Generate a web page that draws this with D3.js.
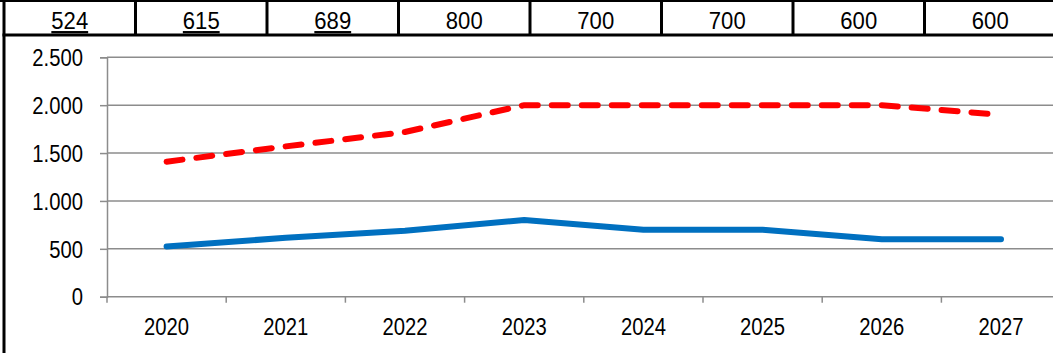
<!DOCTYPE html>
<html>
<head>
<meta charset="utf-8">
<script src="https://cdn.jsdelivr.net/npm/d3@7"></script>
<style>
  body { margin: 0; background: #fff; }
  svg { display: block; font-family: "Liberation Sans", Arial, sans-serif; }
</style>
</head>
<body>
<svg id="chart"></svg>
<script>
// data
var years = ["2020", "2021", "2022", "2023", "2024", "2025", "2026", "2027"];
var blueValues = [524, 615, 689, 800, 700, 700, 600, 600];
var redValues = [1410, 1570, 1720, 2000, 2000, 2000, 2000, 1900];
var tableLabels = ["524", "615", "689", "800", "700", "700", "600", "600"];
var underlined = [true, true, true, false, false, false, false, false];
var yTicks = [0, 500, 1000, 1500, 2000, 2500];

var width = 1053, height = 353;
var tableBottom = 35, cellLeft = 4, cellWidth = 131.5;
var plot = {left: 107, top: 57.3, bottom: 296.7, bandWidth: 119.2};
var squeeze = 0.88; // axis labels are narrower than plain Arial

var svg = d3.select("#chart")
    .attr("width", width)
    .attr("height", height);

var fmt = function(d) { return d3.format(",")(d).replace(/,/g, "."); };

// top row of numbers (table)
var cells = d3.scaleBand()
    .domain(years)
    .range([cellLeft, cellLeft + cellWidth * years.length]);

svg.append("line")
    .attr("x1", 0).attr("x2", width)
    .attr("y1", 0.75).attr("y2", 0.75)
    .attr("stroke", "#000").attr("stroke-width", 2.5);
svg.append("line")
    .attr("x1", cellLeft - 1.5).attr("x2", width)
    .attr("y1", tableBottom).attr("y2", tableBottom)
    .attr("stroke", "#000").attr("stroke-width", 3);
svg.selectAll(".divider")
    .data(years.slice(1))
    .enter().append("line")
    .attr("class", "divider")
    .attr("x1", d => cells(d)).attr("x2", d => cells(d))
    .attr("y1", 0).attr("y2", tableBottom)
    .attr("stroke", "#000").attr("stroke-width", 3);
// left border, all the way down
svg.append("line")
    .attr("x1", cellLeft).attr("x2", cellLeft)
    .attr("y1", 0).attr("y2", height)
    .attr("stroke", "#000").attr("stroke-width", 3);

svg.selectAll(".cell")
    .data(tableLabels)
    .enter().append("text")
    .attr("class", "cell")
    .attr("transform", (d, i) => "translate(" + (cells(years[i]) + cells.bandwidth() / 2) + ",29) scale(0.96,1)")
    .attr("text-anchor", "middle")
    .attr("font-size", 23)
    .attr("text-decoration", (d, i) => underlined[i] ? "underline" : null)
    .text(d => d);

// scales
var xScale = d3.scaleBand()
    .domain(years)
    .range([plot.left, plot.left + plot.bandWidth * years.length]);
var yScale = d3.scaleLinear()
    .domain([0, 2500])
    .range([plot.bottom, plot.top]);

var grey = "#8c8c8c";

// gridlines
svg.append("g")
    .attr("class", "grid")
    .selectAll("line")
    .data(yTicks.slice(1))
    .enter().append("line")
    .attr("x1", plot.left).attr("x2", width)
    .attr("y1", d => yScale(d)).attr("y2", d => yScale(d))
    .attr("stroke", grey).attr("stroke-width", 1.5);

// y axis
var yAxis = svg.append("g")
    .attr("transform", "translate(" + plot.left + ",0)")
    .call(d3.axisLeft(yScale).tickValues(yTicks).tickFormat(fmt).tickSize(7).tickPadding(17));
yAxis.selectAll("text")
    .attr("x", -24 / squeeze)
    .attr("dy", "0.36em");

// x axis
var xAxis = svg.append("g")
    .attr("transform", "translate(0," + plot.bottom + ")")
    .call(d3.axisBottom(xScale).tickSize(0).tickPadding(22));
xAxis.select(".domain").attr("d", "M" + plot.left + ",0H" + width);
xAxis.selectAll(".xtick")
    .data(years)
    .enter().append("line")
    .attr("class", "xtick")
    .attr("x1", d => xScale(d)).attr("x2", d => xScale(d))
    .attr("y1", 0).attr("y2", 6);

[yAxis, xAxis].forEach(function(g) {
    g.selectAll(".domain, line").attr("stroke", grey).attr("stroke-width", 1.5);
    g.selectAll("text")
        .attr("font-family", "Liberation Sans, Arial, sans-serif")
        .attr("font-size", 23)
        .attr("transform", "scale(" + squeeze + ",1)")
        .attr("fill", "#000");
});

// lines
var line = d3.line()
    .x((d, i) => xScale(years[i]) + xScale.bandwidth() / 2)
    .y(d => yScale(d));

svg.append("path")
    .datum(redValues)
    .attr("fill", "none")
    .attr("stroke", "#ff0000")
    .attr("stroke-width", 6)
    .attr("stroke-linecap", "round")
    .attr("stroke-dasharray", "16,14")
    .attr("d", line);

svg.append("path")
    .datum(blueValues)
    .attr("fill", "none")
    .attr("stroke", "#0070c0")
    .attr("stroke-width", 6)
    .attr("stroke-linecap", "round")
    .attr("stroke-linejoin", "round")
    .attr("d", line);
</script>
</body>
</html>
